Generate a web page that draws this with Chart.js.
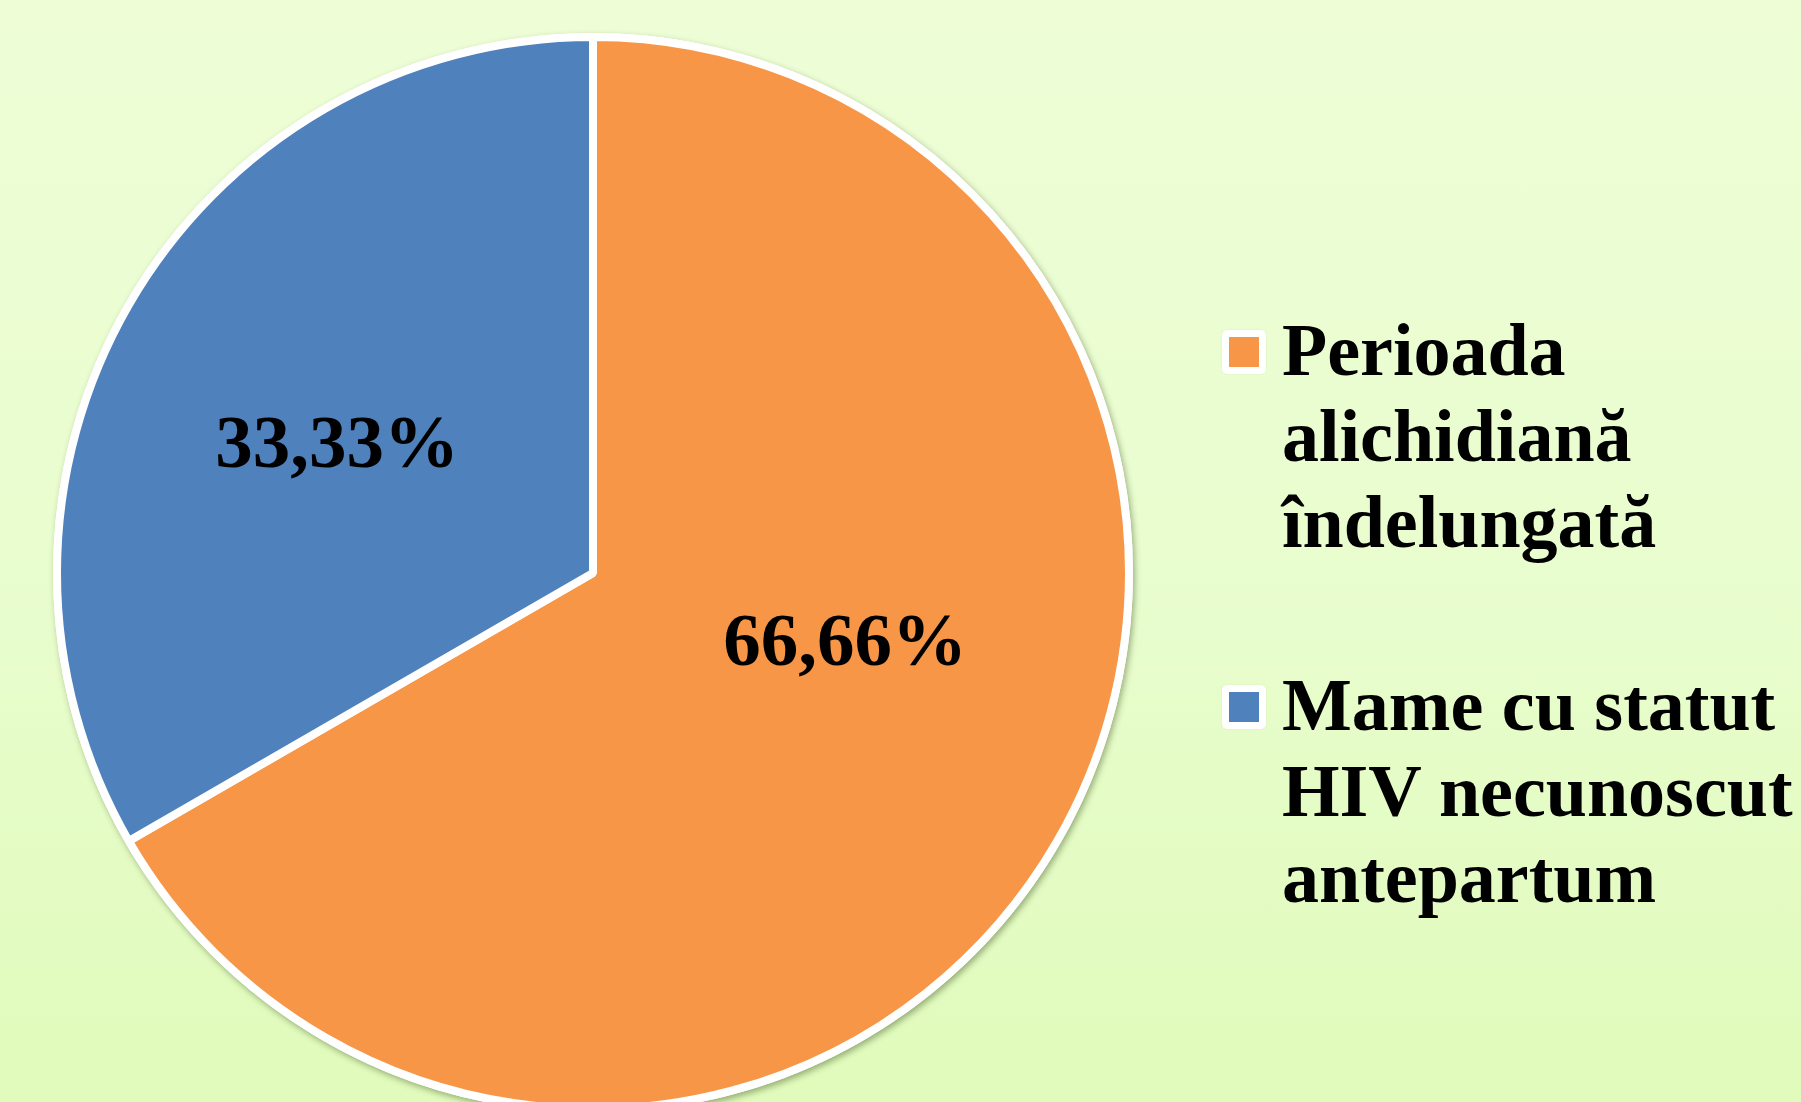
<!DOCTYPE html>
<html>
<head>
<meta charset="utf-8">
<script src="https://cdn.jsdelivr.net/npm/chart.js@4.4.1/dist/chart.umd.min.js"></script>
<style>
  html, body { margin: 0; padding: 0; }
  body {
    width: 1801px; height: 1102px; overflow: hidden; position: relative;
    background: linear-gradient(to bottom, #eefdd6 0%, #e9fdcf 50%, #e0fbbb 100%);
    font-family: 'Liberation Serif', 'Times New Roman', serif;
  }
  #wrap { position: absolute; left: 0; top: 0; width: 1186px; height: 1146px; }
  .item { position: absolute; left: 1222px; }
  .mark { position: absolute; left: 0; top: 23px; width: 44px; height: 44px; background: #fff; border-radius: 5px; box-shadow: 0 0 2px rgba(0,0,0,0.08); }
  .mark span { position: absolute; left: 7px; top: 7px; width: 30px; height: 30px; }
  .txt { position: absolute; left: 60px; top: 0; font-weight: bold; font-size: 74px; line-height: 86px; white-space: nowrap; color: #000; }
</style>
</head>
<body>
<div id="wrap"><canvas id="c"></canvas></div>
<div id="legend"></div>
<script>
// ---- data ----
const categories = [
  ['Perioada', 'alichidiană', 'îndelungată'],
  ['Mame cu statut', 'HIV necunoscut', 'antepartum']
];
const shares = [66.66, 33.33];
const sliceColors = ['#F79646', '#4F81BD'];

// ---- label plugin ----
const labelFont = "bold 75px 'Liberation Serif', 'Times New Roman', serif";
const sliceLabels = {
  id: 'sliceLabels',
  afterDatasetsDraw(chart, args, opts) {
    const ctx = chart.ctx;
    const meta = chart.getDatasetMeta(0);
    const values = chart.data.datasets[0].data;
    ctx.save();
    ctx.font = labelFont;
    ctx.fillStyle = '#000';
    ctx.textAlign = 'center';
    ctx.textBaseline = 'middle';
    meta.data.forEach((arc, i) => {
      const p = arc.getProps(['x', 'y', 'startAngle', 'endAngle', 'outerRadius'], true);
      const a = opts.anchors[i];
      const ang = (p.startAngle + p.endAngle) / 2 + a.shift * Math.PI / 180;
      const r = p.outerRadius * a.ratio;
      const txt = values[i].toFixed(2).replace('.', ',') + '%';
      ctx.fillText(txt, p.x + Math.cos(ang) * r, p.y + Math.sin(ang) * r + opts.dy);
    });
    ctx.restore();
  }
};

const pieShadow = {
  id: 'pieShadow',
  beforeDatasetsDraw(chart) {
    const meta = chart.getDatasetMeta(0);
    const arc = meta.data[0];
    if (!arc) return;
    const p = arc.getProps(['x', 'y', 'outerRadius'], true);
    const bw = chart.data.datasets[0].borderWidth || 0;
    const ctx = chart.ctx;
    ctx.save();
    ctx.shadowColor = 'rgba(60,80,30,0.45)';
    ctx.shadowBlur = 6;
    ctx.shadowOffsetX = 2;
    ctx.shadowOffsetY = 3;
    ctx.fillStyle = '#ffffff';
    ctx.beginPath();
    ctx.arc(p.x, p.y, p.outerRadius + bw / 2, 0, Math.PI * 2);
    ctx.fill();
    ctx.restore();
  }
};

new Chart(document.getElementById('c'), {
  type: 'pie',
  data: {
    labels: categories,
    datasets: [{
      data: shares,
      backgroundColor: sliceColors,
      borderColor: '#ffffff',
      borderWidth: 8,
      radius: 536
    }]
  },
  options: {
    responsive: true,
    maintainAspectRatio: false,
    animation: false,
    layout: { padding: 0 },
    plugins: {
      legend: { display: false },
      tooltip: { enabled: false },
      sliceLabels: { dy: 5, anchors: [ { shift: -15, ratio: 0.487 }, { shift: -3, ratio: 0.536 } ] }
    }
  },
  plugins: [pieShadow, sliceLabels]
});

// ---- HTML legend built from the data ----
const legend = document.getElementById('legend');
categories.forEach((lines, i) => {
  const item = document.createElement('div');
  item.className = 'item';
  item.style.top = (307 + i * 355) + 'px';
  const mark = document.createElement('div');
  mark.className = 'mark';
  const sw = document.createElement('span');
  sw.style.background = sliceColors[i];
  mark.appendChild(sw);
  const txt = document.createElement('div');
  txt.className = 'txt';
  lines.forEach((l, k) => {
    if (k) txt.appendChild(document.createElement('br'));
    txt.appendChild(document.createTextNode(l));
  });
  item.appendChild(mark);
  item.appendChild(txt);
  legend.appendChild(item);
});
</script>
</body>
</html>
